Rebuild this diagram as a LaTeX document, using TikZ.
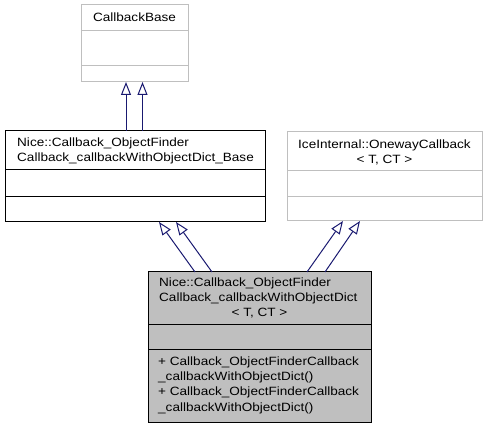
\documentclass[tikz,border=0pt]{standalone}
\usepackage{fontspec}
\setmainfont[FakeStretch=1.13]{Liberation Sans}
\usetikzlibrary{arrows.meta}
\definecolor{edgeblue}{HTML}{191970}
\definecolor{boxgray}{HTML}{BFBFBF}
\tikzset{
  umlbox/.style={rectangle, inner sep=0pt, outer sep=0pt, anchor=north west, line width=1pt},
  graybox/.style={umlbox, draw=boxgray},
  blackbox/.style={umlbox, draw=black},
  sepgray/.style={draw=boxgray, line width=1pt},
  sepblack/.style={draw=black, line width=1pt},
  txt/.style={inner sep=0pt, anchor=base west},
  ctxt/.style={inner sep=0pt, anchor=base},
  inh/.style={draw=edgeblue, line width=1pt, -{Triangle[open, length=13pt, width=10pt]}}
}
\begin{document}
\begin{tikzpicture}[x=1pt, y=-1pt, font=\fontsize{12}{15}\selectfont]
\useasboundingbox (0,0) rectangle (488,427);

% CallbackBase
\node[graybox, minimum width=107pt, minimum height=77pt] (cb) at (81,5) {};
\draw[sepgray] (81,31) -- (188,31);
\draw[sepgray] (81,66) -- (188,66);
\node[ctxt] (cbt) at (134.5,22) {CallbackBase};

% Base class
\node[blackbox, minimum width=260pt, minimum height=91pt] (base) at (5,131) {};
\draw[sepblack] (5,170) -- (265,170);
\draw[sepblack] (5,197) -- (265,197);
\node[txt] (bt1) at (17,146.3) {Nice::Callback\_ObjectFinder};
\node[txt] (bt2) at (17,161.5) {Callback\_callbackWithObjectDict\_Base};

% OnewayCallback
\node[graybox, minimum width=195pt, minimum height=89pt] (ow) at (287,132) {};
\draw[sepgray] (287,171) -- (482,171);
\draw[sepgray] (287,197) -- (482,197);
\node[ctxt] (ot1) at (384.5,149) {IceInternal::OnewayCallback};
\node[ctxt] (ot2) at (384.5,164) {< T, CT >};

% Derived class
\node[blackbox, fill=boxgray, minimum width=223pt, minimum height=151pt] (der) at (148,272) {};
\draw[sepblack] (148,325) -- (371,325);
\draw[sepblack] (148,350) -- (371,350);
\node[txt] (dt1) at (159,287) {Nice::Callback\_ObjectFinder};
\node[txt] (dt2) at (159,302) {Callback\_callbackWithObjectDict};
\node[ctxt] (dt3) at (259.5,317) {< T, CT >};
\node[txt] (dm1) at (158,365.5) {+ Callback\_ObjectFinderCallback};
\node[txt] (dm2) at (158,380.8) {\_callbackWithObjectDict()};
\node[txt] (dm3) at (158,396) {+ Callback\_ObjectFinderCallback};
\node[txt] (dm4) at (158,411.3) {\_callbackWithObjectDict()};

% Inheritance arrows
\draw[inh] ([xshift=-9pt]base.north) -- ([xshift=-8.5pt]cb.south);
\draw[inh] ([xshift=7.5pt]base.north) -- ([xshift=8pt]cb.south);
\draw[inh] ([xshift=-64.5pt]der.north) -- ([xshift=24pt]base.south);
\draw[inh] ([xshift=-47.5pt]der.north) -- ([xshift=41pt]base.south);
\draw[inh] ([xshift=47.5pt]der.north) -- ([xshift=-41.5pt]ow.south);
\draw[inh] ([xshift=65.5pt]der.north) -- ([xshift=-24.5pt]ow.south);
\end{tikzpicture}
\end{document}
